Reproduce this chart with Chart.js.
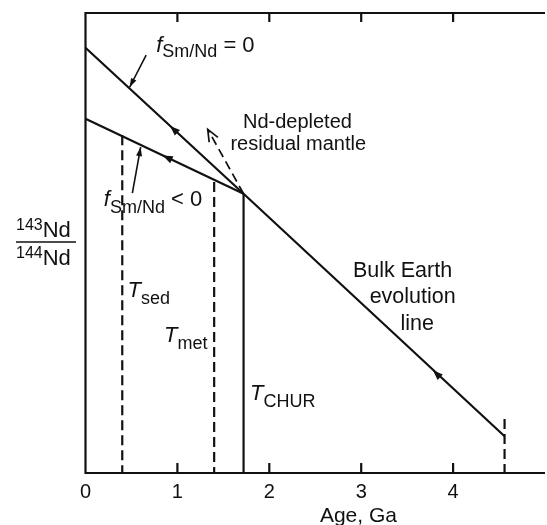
<!DOCTYPE html>
<html lang="en">
<head>
  <meta charset="UTF-8">
  <title>Nd isotope evolution</title>
  <style>
    html, body {
      margin: 0;
      padding: 0;
      background: #fff;
      overflow: hidden;
    }
    canvas { display: block; }
  </style>
  <script src="https://cdn.jsdelivr.net/npm/chart.js"></script>
</head>
<body>
  <canvas id="ndChart" width="552" height="525"></canvas>

  <script>
    // Age in Ga, y values are 143Nd/144Nd
    const xTicks = [0, 1, 2, 3, 4];
    const bulkAge = [0, 1.72, 4.56];
    const bulkNd = [0.51267, 0.51045, 0.50676];
    const lowAge = [0, 1.72];
    const lowNd = [0.51159, 0.51045];
    const churAge = [1.72, 1.72];
    const churNd = [0.51045, 0.5062];
    const sedAge = [0.4, 0.4];
    const sedNd = [0.51134, 0.5062];
    const metAge = [1.4, 1.4];
    const metNd = [0.51063, 0.5062];
    const earthAge = [4.56, 4.56];
    const earthNd = [0.50702, 0.5062];
    const mantleAge = [1.72, 1.33];
    const mantleNd = [0.51045, 0.51143];
    const leadZeroAge = [0.66, 0.48];
    const leadZeroNd = [0.51256, 0.51207];
    const leadNegAge = [0.51, 0.60];
    const leadNegNd = [0.51046, 0.51116];
    // small direction arrows sitting on the evolution lines
    const markAge = [0.96, 0.89, 3.82];
    const markNd = [0.51143, 0.51100, 0.50771];
    const markLine = [0, 1, 0];

    const FONT = '"Liberation Sans", Arial, sans-serif';
    const INK = '#111';

    const pts = (xs, ys) => xs.map((x, i) => ({ x, y: ys[i] }));

    const line = (xs, ys, extra) => Object.assign({
      data: pts(xs, ys),
      borderColor: INK,
      borderWidth: 2.2,
      pointRadius: 0,
      fill: false,
      tension: 0
    }, extra || {});

    const datasets = [
      line(bulkAge, bulkNd),
      line(lowAge, lowNd),
      line(churAge, churNd),
      line(sedAge, sedNd, { borderDash: [10, 5] }),
      line(metAge, metNd, { borderDash: [10, 5] }),
      line(earthAge, earthNd, { borderDash: [10, 5] }),
      line(mantleAge, mantleNd, { borderDash: [9, 5], borderWidth: 1.7, arrow: 'open' }),
      line(leadZeroAge, leadZeroNd, { borderWidth: 1.6, arrow: 'filled' }),
      line(leadNegAge, leadNegNd, { borderWidth: 1.6, arrow: 'filled' })
    ];

    const sub = (t, dy) => ({ t, size: 18, dy });
    const labels = [
      { age: 0.769, nd: 0.51261, parts: [{ t: 'f', it: true, size: 22 }, sub('Sm/Nd', 5), { t: ' = 0', size: 22 }] },
      { age: 0.199, nd: 0.51026, parts: [{ t: 'f', it: true, size: 22 }, sub('Sm/Nd', 7), { t: ' < 0', size: 22 }] },
      { age: 0.457, nd: 0.50888, parts: [{ t: 'T', it: true, size: 22 }, sub('sed', 7)] },
      { age: 0.855, nd: 0.50819, parts: [{ t: 'T', it: true, size: 22 }, sub('met', 7)] },
      { age: 1.790, nd: 0.50731, parts: [{ t: 'T', it: true, size: 22 }, sub('CHUR', 7)] },
      { age: 2.306, nd: 0.51145, center: true, parts: [{ t: 'Nd-depleted', size: 20 }] },
      { age: 2.315, nd: 0.51112, center: true, parts: [{ t: 'residual mantle', size: 20 }] },
      { age: 3.45, nd: 0.50918, center: true, parts: [{ t: 'Bulk Earth', size: 21.5 }] },
      { age: 3.56, nd: 0.50879, center: true, parts: [{ t: 'evolution', size: 21.5 }] },
      { age: 3.61, nd: 0.50838, center: true, parts: [{ t: 'line', size: 21.5 }] }
    ];

    function drawRich(ctx, x, y, parts, center) {
      let w = 0;
      parts.forEach(p => {
        ctx.font = (p.it ? 'italic ' : '') + p.size + 'px ' + FONT;
        w += ctx.measureText(p.t).width;
      });
      let cx = center ? x - w / 2 : x;
      ctx.textAlign = 'left';
      ctx.textBaseline = 'alphabetic';
      parts.forEach(p => {
        ctx.font = (p.it ? 'italic ' : '') + p.size + 'px ' + FONT;
        ctx.fillText(p.t, cx, y + (p.dy || 0));
        cx += ctx.measureText(p.t).width;
      });
    }

    function head(ctx, tip, from, len, half, open) {
      const a = Math.atan2(tip.y - from.y, tip.x - from.x);
      const bx = tip.x - len * Math.cos(a), by = tip.y - len * Math.sin(a);
      const nx = -Math.sin(a) * half, ny = Math.cos(a) * half;
      ctx.beginPath();
      if (open) {
        ctx.moveTo(bx + nx, by + ny);
        ctx.lineTo(tip.x, tip.y);
        ctx.lineTo(bx - nx, by - ny);
        ctx.stroke();
      } else {
        ctx.moveTo(tip.x, tip.y);
        ctx.lineTo(bx + nx, by + ny);
        ctx.lineTo(bx - nx, by - ny);
        ctx.closePath();
        ctx.fill();
      }
    }

    const decorPlugin = {
      id: 'decor',
      afterDatasetsDraw(chart) {
        const { ctx, chartArea: ca, scales } = chart;
        const xs = scales.x, ys = scales.y;
        ctx.save();
        ctx.strokeStyle = INK;
        ctx.fillStyle = INK;
        ctx.lineWidth = 2.2;
        ctx.setLineDash([]);

        // frame: left, top, bottom (right edge is cut off)
        ctx.beginPath();
        ctx.moveTo(ca.right, ca.top);
        ctx.lineTo(ca.left, ca.top);
        ctx.lineTo(ca.left, ca.bottom);
        ctx.lineTo(ca.right, ca.bottom);
        ctx.stroke();

        // inward tick marks
        xTicks.slice(1).forEach(v => {
          const px = xs.getPixelForValue(v);
          ctx.beginPath();
          ctx.moveTo(px, ca.bottom);
          ctx.lineTo(px, ca.bottom - 10);
          ctx.moveTo(px, ca.top);
          ctx.lineTo(px, ca.top + 9);
          ctx.stroke();
        });

        // arrow heads at the end of leader / mantle lines
        chart.data.datasets.forEach((ds, i) => {
          if (!ds.arrow) return;
          const el = chart.getDatasetMeta(i).data;
          const tip = el[el.length - 1], from = el[el.length - 2];
          ctx.lineWidth = 1.7;
          if (ds.arrow === 'open') head(ctx, tip, from, 12, 5, true);
          else head(ctx, tip, from, 9, 3, false);
        });

        // direction marks on evolution lines (pointing toward the present)
        markAge.forEach((a, i) => {
          const el = chart.getDatasetMeta(markLine[i]).data;
          const p = { x: xs.getPixelForValue(a), y: ys.getPixelForValue(markNd[i]) };
          const first = el[0], last = el[el.length - 1];
          const dx = first.x - last.x, dy = first.y - last.y, d = Math.hypot(dx, dy);
          const tip = { x: p.x + dx / d * 5, y: p.y + dy / d * 5 };
          head(ctx, tip, p, 10, 3.8, false);
        });

        // annotation text
        labels.forEach(l => {
          drawRich(ctx, xs.getPixelForValue(l.age), ys.getPixelForValue(l.nd), l.parts, l.center);
        });

        // y axis label as a fraction
        const fx = 16, fy = 242;
        drawRich(ctx, fx, fy - 5, [{ t: '143', size: 16, dy: -7 }, { t: 'Nd', size: 22 }]);
        drawRich(ctx, fx, fy + 23, [{ t: '144', size: 16, dy: -7 }, { t: 'Nd', size: 22 }]);
        ctx.lineWidth = 1.6;
        ctx.beginPath();
        ctx.moveTo(fx, fy);
        ctx.lineTo(fx + 60, fy);
        ctx.stroke();

        // x axis title
        drawRich(ctx, xs.getPixelForValue(2.97), ca.bottom + 49, [{ t: 'Age, Ga', size: 21 }], true);
        ctx.restore();
      }
    };

    const ndChart = new Chart(document.getElementById('ndChart').getContext('2d'), {
      type: 'line',
      data: { datasets },
      options: {
        responsive: false,
        animation: false,
        devicePixelRatio: 1,
        layout: { padding: { left: 85.5, top: 13, right: 1.5, bottom: 0 } },
        scales: {
          x: {
            type: 'linear',
            position: 'bottom',
            min: 0,
            max: 5,
            afterFit: s => { s.height = 52; },
            grid: { display: false, drawTicks: false },
            border: { display: false },
            ticks: {
              stepSize: 1,
              padding: 7,
              color: INK,
              font: { family: FONT, size: 20 },
              callback: v => (xTicks.includes(v) ? String(v) : '')
            }
          },
          y: {
            type: 'linear',
            min: 0.5062,
            max: 0.5132,
            display: false
          }
        },
        plugins: {
          legend: { display: false },
          tooltip: { enabled: false }
        }
      },
      plugins: [decorPlugin]
    });
  </script>
</body>
</html>
